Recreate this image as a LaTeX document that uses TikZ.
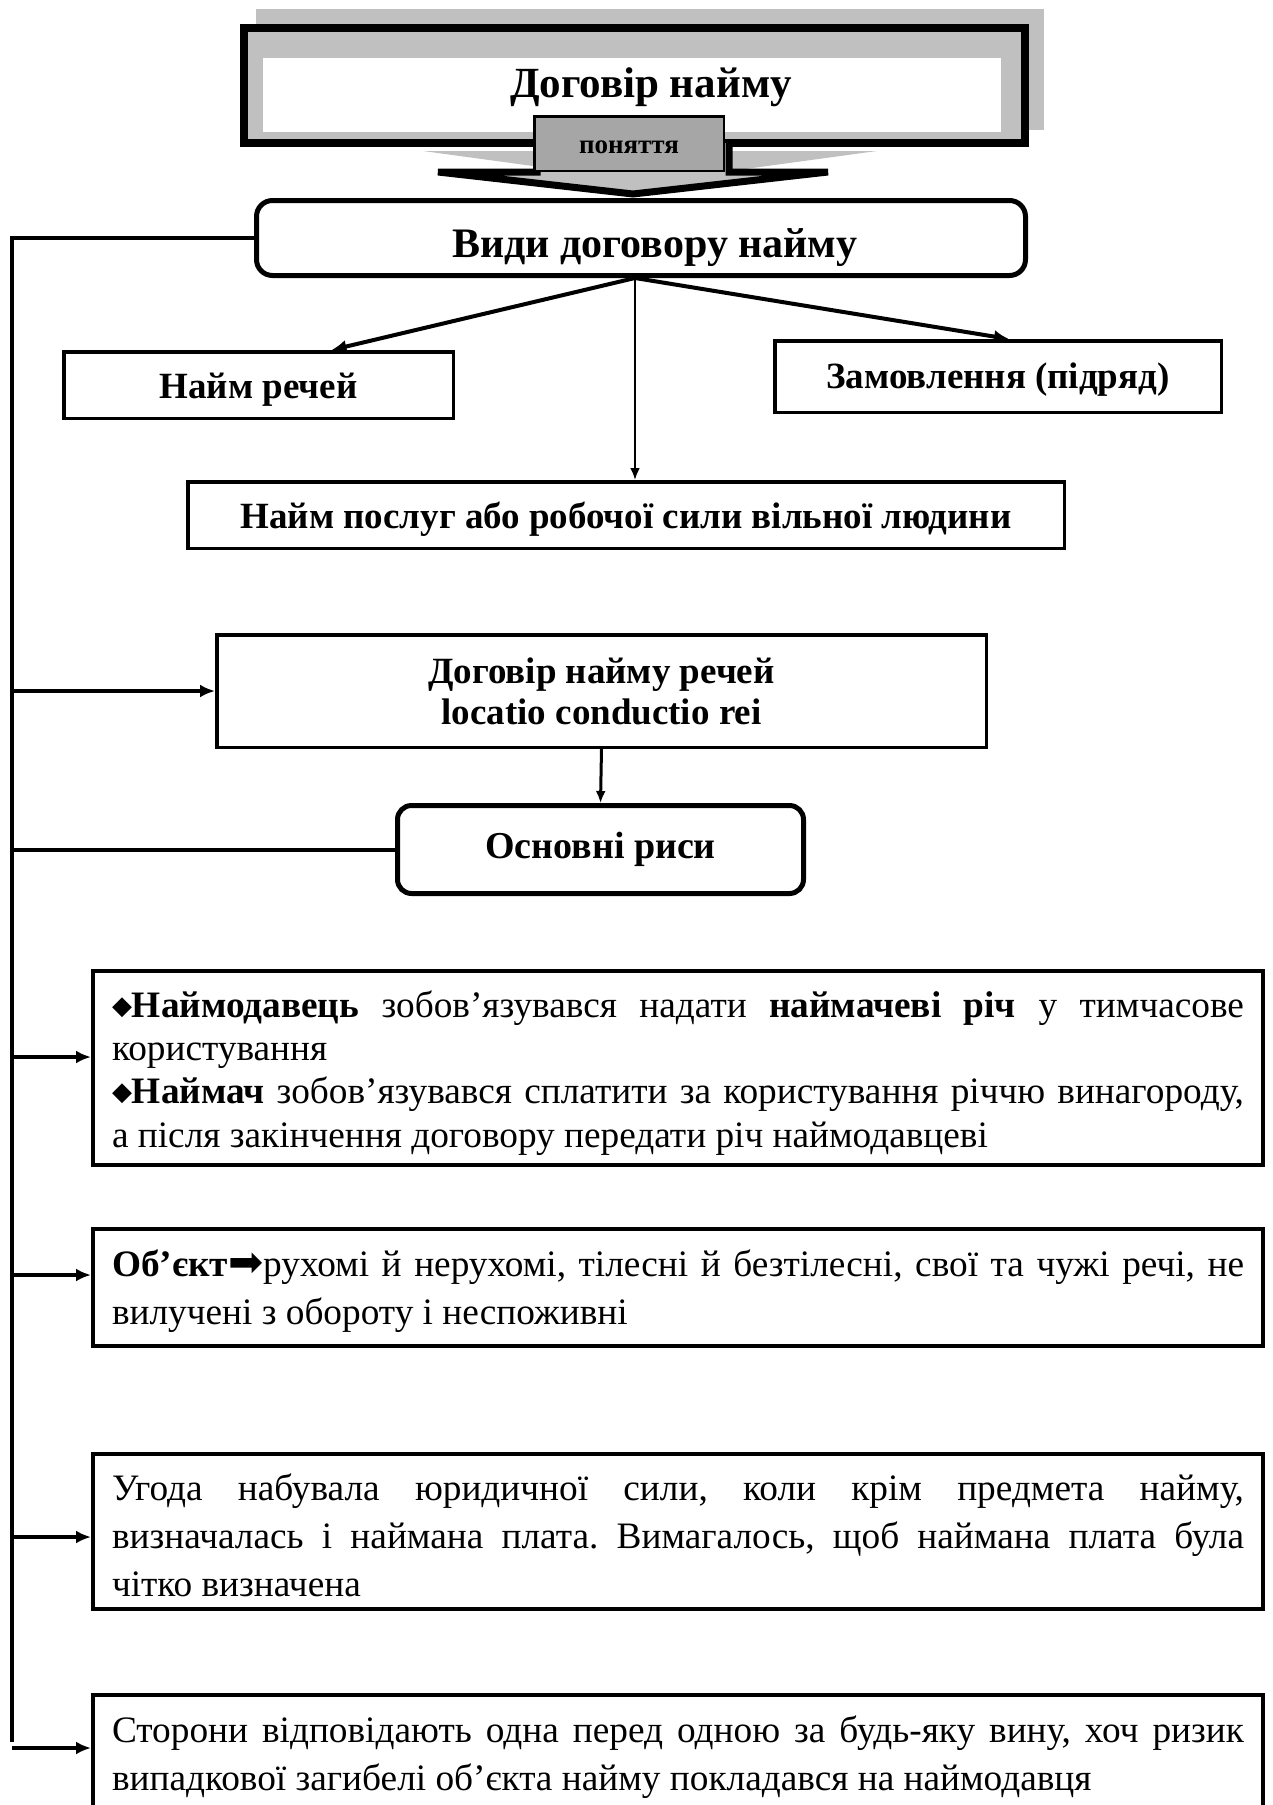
\documentclass[tikz,border=0pt]{standalone}
\usepackage{fontspec}
\setmainfont{Liberation Serif}
\newfontfamily\symbfont{DejaVu Sans}
\usetikzlibrary{arrows.meta}

\definecolor{lightgrey}{HTML}{C0C0C0}
\definecolor{midgrey}{HTML}{A6A6A6}

\newcommand{\dmd}{{\symbfont\fontsize{26}{26}\selectfont\raisebox{3pt}{◆}}}
\newcommand{\rarr}{{\symbfont\fontsize{42}{42}\selectfont ➡}}
\newcommand{\bodyfont}[1]{\fontsize{37.3}{#1}\selectfont\parindent=0pt\frenchspacing\tolerance=10000\hyphenpenalty=10000\exhyphenpenalty=10000}

\begin{document}
\begin{tikzpicture}[
	x=1pt, y=-1pt,
	plainbox/.style={ draw, line width=3.5pt, inner sep=0pt, align=center, font=\fontsize{37}{37}\selectfont\bfseries },
	roundbox/.style={ draw, line width=5pt, rounded corners=16pt, inner sep=0pt, align=center },
	textbox/.style={ draw, line width=4pt, inner sep=0pt, minimum width=1170pt, text width=1132pt, align=justify },
	wire/.style={ line width=4pt },
	wirearr/.style={ line width=4pt, -{Latex[length=15pt,width=13pt]} },
	thinarr/.style={ line width=2.5pt, -{Latex[length=12pt,width=10pt]} }
]
\useasboundingbox (0,0) rectangle (1273,1805);

% header
\fill[lightgrey] (256,9) rectangle (1044,130);
\draw[line width=8pt, fill=lightgrey] (244,28) rectangle (1025,143);
\fill[white] (263,58) rectangle (1001,132);
\node (title) at (651,97) [anchor=base, inner sep=0pt, font=\fontsize{43}{43}\selectfont\bfseries] {Договір найму};

\fill[lightgrey] (423,151) -- (877,151) -- (650,182) -- cycle;
\draw[line width=7pt, fill=lightgrey] (537,143) -- (537,172) -- (438,172) -- (633,194) -- (828,172) -- (729,172) -- (729,143);
\node (ponyattya) at (629,143.5) [draw, line width=2.5pt, fill=midgrey, inner sep=0pt, minimum width=189.5pt, minimum height=54.5pt, text height=19pt, text depth=0pt, font=\fontsize{27}{27}\selectfont\bfseries] {поняття};

% kinds
\node (vidy) at (641,238) [roundbox, minimum width=769pt, minimum height=75pt, text height=38pt, text depth=0pt, font=\fontsize{42}{42}\selectfont\bfseries] {\hspace*{28pt}Види договору найму};
\node (rechi) at (258.5,385) [plainbox, minimum width=389.5pt, minimum height=66.5pt, text height=27pt, text depth=0pt] {Найм речей};
\node (zamov) at (998,376.5) [plainbox, minimum width=446.5pt, minimum height=71.5pt, text height=23pt, text depth=0pt] {Замовлення (підряд)};
\node (posluh) at (626,515) [plainbox, minimum width=876.5pt, minimum height=66.5pt, text height=26pt, text depth=0pt] {Найм послуг або робочої сили вільної людини};

\coordinate (fork) at ([xshift=-6pt]vidy.south);
\draw[wirearr] (fork) -- ([xshift=73pt]rechi.north);
\draw[wirearr] (fork) -- ([xshift=11pt]zamov.north);
\draw[thinarr] (fork) -- (fork |- posluh.north);

% locatio conductio rei
\node (rechdog) at (601.5,691) [plainbox, minimum width=769.5pt, minimum height=112.5pt, font=\fontsize{37}{41}\selectfont\bfseries] {Договір найму речей\\locatio conductio rei};
\node (osnovni) at (600.5,849.5) [roundbox, minimum width=406pt, minimum height=88pt, rounded corners=14pt, font=\fontsize{38}{38}\selectfont\bfseries] {Основні риси};
\draw[thinarr, line width=3pt] (rechdog.south) -- (osnovni.north);

% features
\node (b1) at (678,1068) [textbox, minimum height=194pt, text height=28.2pt, text depth=130.2pt, font=\bodyfont{43.4}] {\dmd\textbf{Наймодавець} зобов’язувався надати \textbf{наймачеві річ} у тимчасове\linebreak користування\par
\dmd\textbf{Наймач} зобов’язувався сплатити за користування річчю винагороду,\linebreak а після закінчення договору передати річ наймодавцеві};
\node (b2) at (678,1287.5) [textbox, minimum height=117pt, text height=25pt, text depth=48pt, font=\bodyfont{48}] {\textbf{Об’єкт}\rarr рухомі й нерухомі, тілесні й безтілесні, свої та чужі речі, не\linebreak вилучені з обороту і неспоживні};
\node (b3) at (678,1531.5) [textbox, minimum height=155pt, text height=33pt, text depth=96pt, font=\bodyfont{48}] {Угода набувала юридичної сили, коли крім предмета найму,\linebreak визначалась і наймана плата. Вимагалось, щоб наймана плата була\linebreak чітко визначена};
\node (b4) at (678,1754) [textbox, minimum height=118pt, text height=24pt, text depth=48pt, font=\bodyfont{48}] {Сторони відповідають одна перед одною за будь-яку вину, хоч ризик\linebreak випадкової загибелі об’єкта найму покладався на наймодавця};

% left spine
\coordinate (spinebot) at (12,1742);
\draw[wire] (vidy.west) -| (spinebot);
\draw[wirearr] (rechdog.west -| spinebot) -- (rechdog.west);
\draw[wire] (osnovni.west -| spinebot) -- (osnovni.west);
\coordinate (s1) at (12,1057);
\coordinate (s2) at (12,1275);
\coordinate (s3) at (12,1537);
\coordinate (s4) at (12,1748);
\draw[wirearr] (s1) -- (s1 -| b1.west);
\draw[wirearr] (s2) -- (s2 -| b2.west);
\draw[wirearr] (s3) -- (s3 -| b3.west);
\draw[wirearr] (s4) -- (s4 -| b4.west);

\end{tikzpicture}
\end{document}
